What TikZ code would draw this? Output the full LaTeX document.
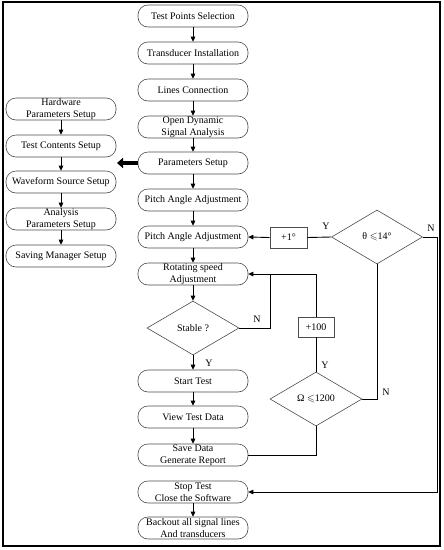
\documentclass[tikz,border=0pt]{standalone}
\usepackage{amssymb}
\usepackage{fontspec}
\setmainfont{Liberation Serif}
\usetikzlibrary{shapes.geometric,arrows.meta}
\begin{document}
\begin{tikzpicture}[x=1pt,y=-1pt,
  proc/.style={draw=black!70,line width=0.6pt,rounded corners=10pt,minimum width=110pt,minimum height=22pt,inner sep=0pt,align=center,font=\fontsize{10}{11.8}\selectfont},
  dec/.style={draw=black!70,line width=0.6pt,diamond,minimum width=92pt,minimum height=54pt,inner sep=0pt,font=\fontsize{10}{11.8}\selectfont},
  incbox/.style={draw=black!70,line width=0.6pt,minimum width=37pt,minimum height=21pt,inner sep=0pt,font=\fontsize{10}{11.8}\selectfont},
  lbl/.style={font=\fontsize{10}{11.8}\selectfont,inner sep=0pt},
  arr/.style={-{Triangle[length=5pt,width=4.5pt]},line width=0.9pt},
  ln/.style={line width=0.9pt}]
\useasboundingbox (0,0) rectangle (444,550);
\draw[line width=1.6pt] (3,2) rectangle (440,546);
% main column
\node[proc] (tps) at (193,16) {Test Points Selection};
\node[proc] (ti) at (193,53) {Transducer Installation};
\node[proc] (lc) at (193,90) {Lines Connection};
\node[proc] (odsa) at (193,127) {Open Dynamic\\Signal Analysis};
\node[proc] (ps) at (193,163) {Parameters Setup};
\node[proc] (pa1) at (193,200) {Pitch Angle Adjustment};
\node[proc] (pa2) at (193,237) {Pitch Angle Adjustment};
\node[proc] (rsa) at (193,274) {Rotating speed\\Adjustment};
\node[dec] (stb) at (193,328) {Stable ?};
\node[proc] (st) at (193,381) {Start Test};
\node[proc] (vtd) at (193,417) {View Test Data};
\node[proc] (sd) at (193,455) {Save Data\\Generate Report};
\node[proc] (stop) at (193,492) {Stop Test\\Close the Software};
\node[proc] (bo) at (193,528) {Backout all signal lines\\And transducers};
% left column
\node[proc] (hps) at (61,109) {Hardware\\Parameters Setup};
\node[proc] (tcs) at (61,146) {Test Contents Setup};
\node[proc] (wss) at (61,182) {Waveform Source Setup};
\node[proc] (aps) at (61,219) {Analysis\\Parameters Setup};
\node[proc] (sms) at (61,256) {Saving Manager Setup};
% right side
\node[dec,minimum width=91pt] (th) at (377,237) {θ $\leqslant$14°};
\node[incbox] (p1) at (288.5,237.5) {+1°};
\node[dec] (om) at (316,399) {Ω $\leqslant$1200};
\node[incbox,minimum width=36pt,minimum height=20pt] (p100) at (316,327) {+100};
\coordinate (c1) at (270,274);
\coordinate (c2) at (316,274);
\coordinate (c3) at (377,399);
\coordinate (c4) at (316,455);
\coordinate (c5) at (437,237);
\coordinate (c6) at (437,492);
% main arrows
\foreach \a/\b in {tps/ti,ti/lc,lc/odsa,odsa/ps,ps/pa1,pa1/pa2,pa2/rsa,rsa/stb,stb/st,st/vtd,vtd/sd,stop/bo}
  \draw[arr] (\a) -- (\b);
\foreach \a/\b in {hps/tcs,tcs/wss,wss/aps,aps/sms}
  \draw[arr] (\a) -- (\b);
\coordinate (tk) at (117,163);
\draw[line width=4pt,-{Triangle[length=6pt,width=10pt]}] (ps.west) -- (tk);
% loops
\draw[ln] (th.west) -- (p1.east);
\draw[arr] (p1.west) -- (pa2.east);
\draw[ln] (stb.east) -| (c1);
\draw[ln] (om.north) -- (p100.south);
\draw[arr] (p100.north) -- (c2) -- (rsa.east);
\draw[ln] (om.east) -- (c3) -- (th.south);
\draw[ln] (sd.east) -- (c4) -- (om.south);
\draw[arr] (th.east) -- (c5) -- (c6) -- (stop.east);
% labels
\node[lbl] at (326,226) {Y};
\node[lbl] at (431,228) {N};
\node[lbl] at (257,319) {N};
\node[lbl] at (209,363) {Y};
\node[lbl] at (325,365) {Y};
\node[lbl] at (386,392) {N};
\end{tikzpicture}
\end{document}
